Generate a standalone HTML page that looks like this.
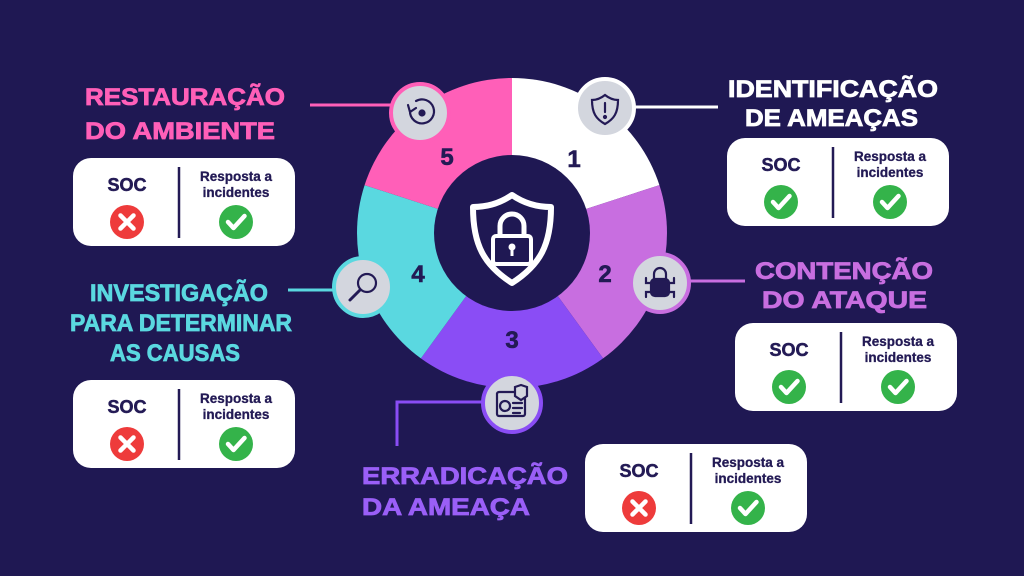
<!DOCTYPE html>
<html><head><meta charset="utf-8"><style>
html,body{margin:0;padding:0;background:#1f1853;}
svg{display:block}
text{font-family:"Liberation Sans",sans-serif;font-weight:bold}
</style></head><body>
<svg width="1024" height="576" viewBox="0 0 1024 576" xmlns="http://www.w3.org/2000/svg">
<defs>
<g id="chk"><circle r="17" fill="#34b34a"/><path d="M-8,0 L-2.5,6 L8.5,-6" stroke="#fff" stroke-width="4.5" fill="none" stroke-linecap="round" stroke-linejoin="round"/></g>
<g id="x"><circle r="17" fill="#ee3b3b"/><path d="M-6.5,-6.5 L6.5,6.5 M6.5,-6.5 L-6.5,6.5" stroke="#fff" stroke-width="4.5" stroke-linecap="round"/></g>
<g id="box"><rect x="0" y="0" width="222" height="88" rx="18" fill="#fff"/>
<line x1="106" y1="9" x2="106" y2="80" stroke="#231a55" stroke-width="2.5"/>
<text x="54" y="33" text-anchor="middle" font-size="18" fill="#231a55" stroke="#231a55" stroke-width="0.5">SOC</text>
<text x="163" y="23" text-anchor="middle" font-size="13.5" fill="#231a55" stroke="#231a55" stroke-width="0.3">Resposta a</text>
<text x="163" y="39" text-anchor="middle" font-size="13.5" fill="#231a55" stroke="#231a55" stroke-width="0.3">incidentes</text>
</g>
</defs>
<rect width="1024" height="576" fill="#1f1853"/>

<!-- connectors -->
<line x1="310" y1="105" x2="395" y2="105" stroke="#ff5fb8" stroke-width="3"/>
<line x1="630" y1="107" x2="718" y2="107" stroke="#ffffff" stroke-width="3"/>
<line x1="685" y1="281" x2="745" y2="281" stroke="#c86ee0" stroke-width="3"/>
<line x1="288" y1="290" x2="340" y2="290" stroke="#5ad8e0" stroke-width="3"/>
<polyline points="485,402 397,402 397,446" stroke="#8a4df5" stroke-width="3" fill="none"/>

<!-- wheel -->
<path d="M512,233 L512,78 A155,155 0 0 1 659.4,185.1 Z" fill="#ffffff"/>
<path d="M512,233 L659.4,185.1 A155,155 0 0 1 603.1,358.4 Z" fill="#c86ee0"/>
<path d="M512,233 L603.1,358.4 A155,155 0 0 1 420.9,358.4 Z" fill="#8a4df5"/>
<path d="M512,233 L420.9,358.4 A155,155 0 0 1 364.6,185.1 Z" fill="#5ad8e0"/>
<path d="M512,233 L364.6,185.1 A155,155 0 0 1 512,78 Z" fill="#ff5fb8"/>
<circle cx="512" cy="233" r="78" fill="#1f1853"/>
<!-- shield -->
<path d="M512,195 C525,204 538,207 551,207 C551,245 540,265 512,283 C484,265 473,245 473,207 C486,207 499,204 512,195 Z" fill="none" stroke="#fff" stroke-width="6" stroke-linejoin="round"/>
<path d="M500,236 V226 A12,12 0 0 1 524,226 V236" fill="none" stroke="#fff" stroke-width="5"/>
<rect x="493" y="236" width="38" height="28" rx="3" fill="none" stroke="#fff" stroke-width="4"/>
<circle cx="512" cy="247" r="3.5" fill="#fff"/><rect x="510.5" y="248" width="3" height="8" fill="#fff"/>

<!-- numbers -->
<g font-size="24" fill="#231a55" stroke="#231a55" stroke-width="0.6" text-anchor="middle" style="font-family:'Liberation Sans',sans-serif;font-weight:bold">
<text x="447" y="165">5</text><text x="574" y="167">1</text><text x="605" y="282">2</text><text x="512" y="348">3</text><text x="418" y="282">4</text>
</g>

<!-- icon circles -->
<g stroke-width="4" fill="#d3d6de">
<circle cx="420" cy="113" r="29" stroke="#ff5fb8"/>
<circle cx="605" cy="108" r="29" stroke="#ffffff"/>
<circle cx="660" cy="283" r="29" stroke="#c86ee0"/>
<circle cx="512" cy="403" r="29" stroke="#8a4df5"/>
<circle cx="363" cy="287" r="29" stroke="#5ad8e0"/>
</g>
<!-- icons -->
<g fill="none" stroke="#231a55" stroke-width="2.2" stroke-linecap="round">
<path d="M410,111 A12,12 0 1 0 416,101"/><path d="M408,105 L410,112 L416,108"/><circle cx="422" cy="113" r="2.5" fill="#231a55"/>
<path d="M605,95 C610,99 615,100 618,100 C618,113 614,119 605,124 C596,119 592,113 592,100 C595,100 600,99 605,95 Z"/>
<line x1="605" y1="103" x2="605" y2="112"/><circle cx="605" cy="117" r="1" fill="#231a55"/>
<circle cx="367" cy="283" r="9"/><line x1="360" y1="290" x2="350" y2="300" stroke-width="3"/>
<path d="M654,279 V274 A6,6 0 0 1 666,274 V279"/><rect x="651" y="279" width="18" height="17" rx="4" fill="#231a55"/>
<path d="M651,283 H646 V278 M651,292 H646 V297 M669,283 H674 V278 M669,292 H674 V297"/>
<rect x="497" y="392" width="28" height="24" rx="2"/><circle cx="505" cy="406" r="5"/>
<path d="M513,403 H522 M513,408 H522 M513,413 H520"/><path d="M515,387 L521,385 L527,387 V396 L521,400 L515,396 Z" fill="#d3d6de"/>
</g>

<!-- titles -->
<g font-size="24" stroke-width="0.8" style="font-family:'Liberation Sans',sans-serif;font-weight:bold">
<text x="85" y="105" fill="#ff5fb8" stroke="#ff5fb8" textLength="200" lengthAdjust="spacingAndGlyphs">RESTAURAÇÃO</text>
<text x="85" y="139" fill="#ff5fb8" stroke="#ff5fb8" textLength="190" lengthAdjust="spacingAndGlyphs">DO AMBIENTE</text>
<text x="728" y="97" fill="#ffffff" stroke="#ffffff" textLength="210" lengthAdjust="spacingAndGlyphs">IDENTIFICAÇÃO</text>
<text x="745" y="126" fill="#ffffff" stroke="#ffffff" textLength="173" lengthAdjust="spacingAndGlyphs">DE AMEAÇAS</text>
<text x="755" y="279" fill="#c86ee0" stroke="#c86ee0" textLength="178" lengthAdjust="spacingAndGlyphs">CONTENÇÃO</text>
<text x="762" y="308" fill="#c86ee0" stroke="#c86ee0" textLength="165" lengthAdjust="spacingAndGlyphs">DO ATAQUE</text>
<text x="90" y="301" fill="#5ad8e0" stroke="#5ad8e0" textLength="178" lengthAdjust="spacingAndGlyphs">INVESTIGAÇÃO</text>
<text x="70" y="331" fill="#5ad8e0" stroke="#5ad8e0" textLength="222" lengthAdjust="spacingAndGlyphs">PARA DETERMINAR</text>
<text x="110" y="361" fill="#5ad8e0" stroke="#5ad8e0" textLength="130" lengthAdjust="spacingAndGlyphs">AS CAUSAS</text>
<text x="362" y="484" fill="#9a5ff7" stroke="#9a5ff7" textLength="206" lengthAdjust="spacingAndGlyphs">ERRADICAÇÃO</text>
<text x="362" y="515" fill="#9a5ff7" stroke="#9a5ff7" textLength="168" lengthAdjust="spacingAndGlyphs">DA AMEAÇA</text>
</g>

<!-- boxes -->
<g transform="translate(73,158)"><use href="#box"/><use href="#x" x="54" y="64"/><use href="#chk" x="163" y="64"/></g>
<g transform="translate(727,138)"><use href="#box"/><use href="#chk" x="54" y="64"/><use href="#chk" x="163" y="64"/></g>
<g transform="translate(735,323)"><use href="#box"/><use href="#chk" x="54" y="64"/><use href="#chk" x="163" y="64"/></g>
<g transform="translate(73,380)"><use href="#box"/><use href="#x" x="54" y="64"/><use href="#chk" x="163" y="64"/></g>
<g transform="translate(585,444)"><use href="#box"/><use href="#x" x="54" y="64"/><use href="#chk" x="163" y="64"/></g>
</svg>
</body></html>
